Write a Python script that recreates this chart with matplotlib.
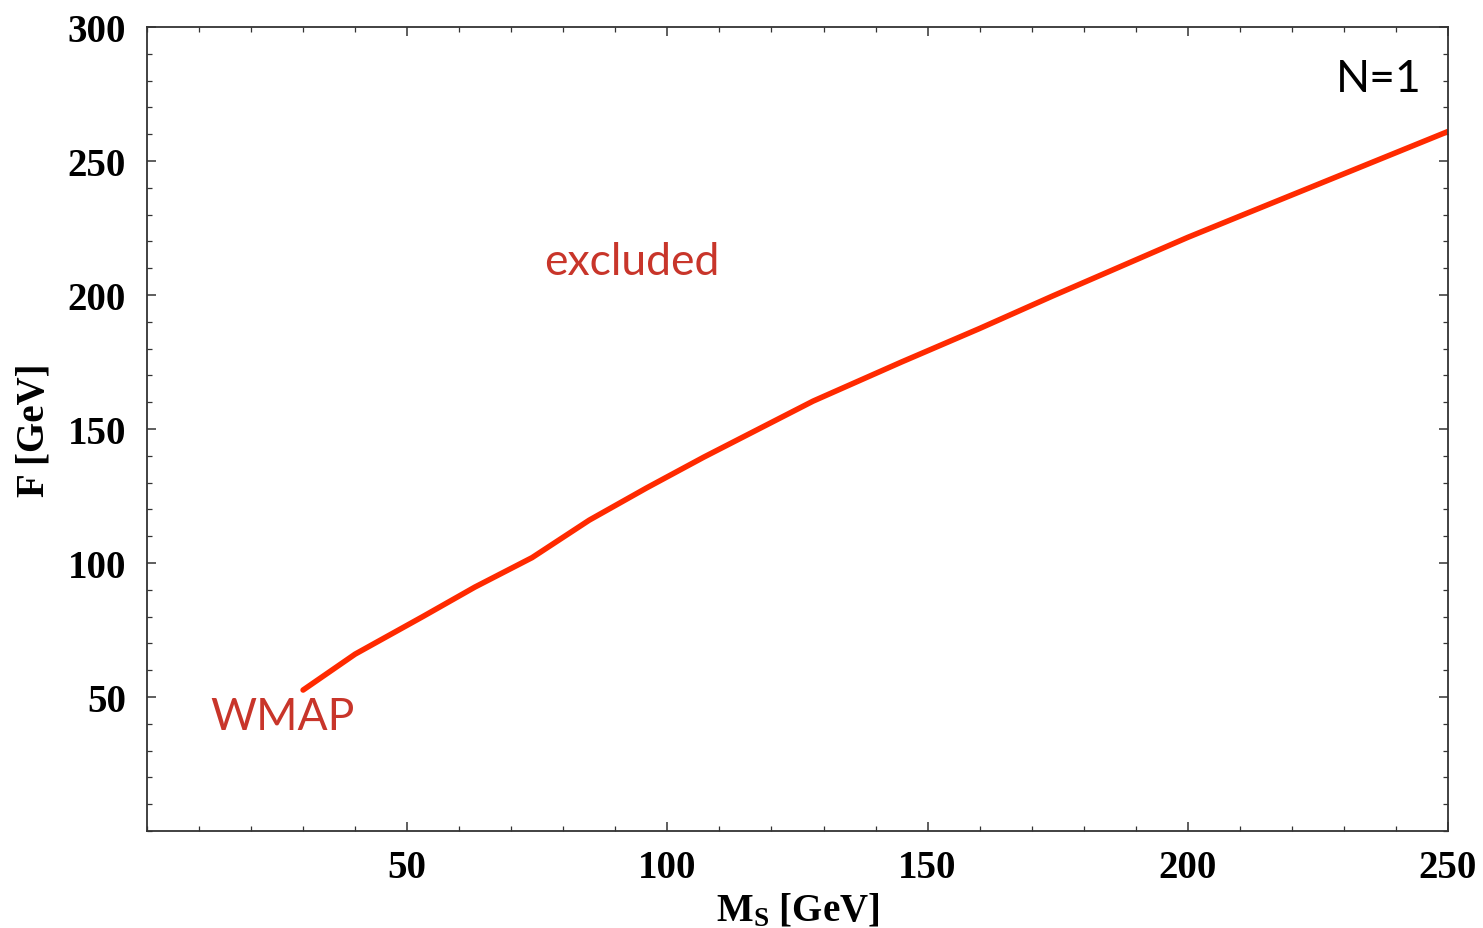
import numpy as np
import matplotlib
matplotlib.use("Agg")
import matplotlib.pyplot as plt
from matplotlib.ticker import MultipleLocator

## WMAP curve
ms = [30, 40, 53, 63, 74, 85, 96, 107, 128, 145, 160, 174, 200, 212, 250]
F = [52.6, 66, 80, 91, 102, 116, 128, 139.5, 160.4, 175, 187.5, 199.6, 221.5, 231, 261]

xticks = [50, 100, 150, 200, 250]
yticks = [50, 100, 150, 200, 250, 300]

plt.rcParams['mathtext.fontset'] = 'custom'
plt.rcParams['mathtext.rm'] = 'Liberation Serif:bold'
plt.rcParams['mathtext.it'] = 'Liberation Serif:bold'
plt.rcParams['mathtext.bf'] = 'Liberation Serif:bold'

fig = plt.figure(figsize=(14.83, 9.29), dpi=100)
ax = fig.add_axes([0.0991, 0.1044, 0.8773, 0.8655])

ax.plot(ms, F, color='#ff2a00', lw=4, solid_capstyle='round', solid_joinstyle='round')

ax.set_xlim(0, 250)
ax.set_ylim(0, 300)
ax.set_xticks(xticks)
ax.set_yticks(yticks)
ax.xaxis.set_minor_locator(MultipleLocator(10))
ax.yaxis.set_minor_locator(MultipleLocator(10))
ax.tick_params(which='both', direction='in', top=True, right=True, color='#333333')
ax.tick_params(which='major', length=6.5, width=1.1)
ax.tick_params(which='minor', length=3.8, width=0.9)
for s in ax.spines.values():
    s.set_color('#333333')
    s.set_linewidth(1.3)

lab = dict(family='Liberation Serif', weight='bold', size=28)
for t in ax.get_xticklabels() + ax.get_yticklabels():
    t.set_fontfamily('Liberation Serif')
    t.set_fontweight('bold')
    t.set_fontsize(28)
ax.tick_params(axis='x', pad=13)
ax.tick_params(axis='y', pad=15)

ax.set_xlabel(r'$\mathrm{M_S}$ [GeV]', labelpad=4, **lab)
ax.set_ylabel('F [GeV]', labelpad=11, **lab)

red = '#c8352a'
ax.text(93.2, 208, 'excluded', color=red, fontsize=32, family='Lato', ha='center', va='baseline')
ax.text(26, 38, 'WMAP', color=red, fontsize=32, family='Lato', ha='center', va='baseline')
ax.text(236.6, 276, 'N=1', color='black', fontsize=32, family='Lato', ha='center', va='baseline')

plt.savefig('out.png', dpi=100)
